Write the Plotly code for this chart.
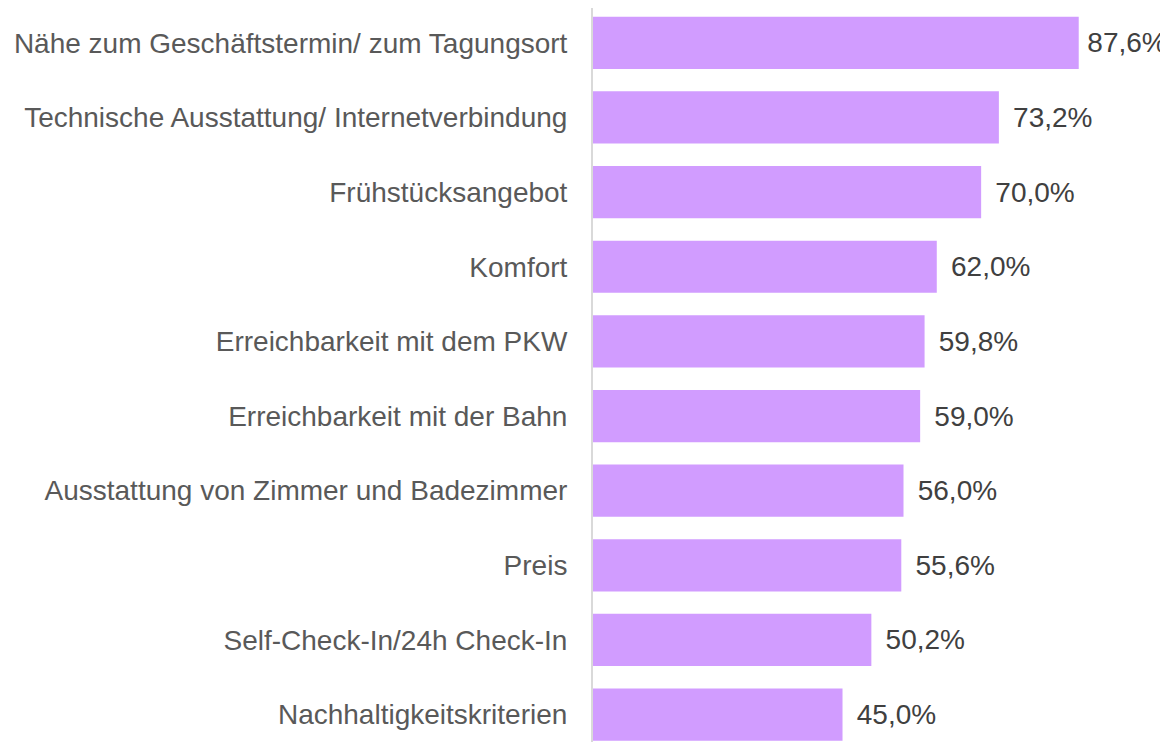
import plotly.graph_objects as go

categories = [
    "Nähe zum Geschäftstermin/ zum Tagungsort",
    "Technische Ausstattung/ Internetverbindung",
    "Frühstücksangebot",
    "Komfort",
    "Erreichbarkeit mit dem PKW",
    "Erreichbarkeit mit der Bahn",
    "Ausstattung von Zimmer und Badezimmer",
    "Preis",
    "Self-Check-In/24h Check-In",
    "Nachhaltigkeitskriterien",
]
values = [87.6, 73.2, 70.0, 62.0, 59.8, 59.0, 56.0, 55.6, 50.2, 45.0]
value_labels = [f"{v:.1f}%".replace(".", ",") for v in values]

# wider gap normally, narrower gap for the longest bar so its label fits
texts = [("\u2009" if v > 80 else "\u2009\u2009") + t for v, t in zip(values, value_labels)]

fig = go.Figure(
    go.Bar(
        x=values,
        y=categories,
        orientation="h",
        marker=dict(color="#D19CFF", line=dict(width=0)),
        width=0.7,
        text=texts,
        textposition="outside",
        textfont=dict(family="Liberation Sans, Arial, sans-serif", size=28, color="#404040"),
        cliponaxis=False,
        hoverinfo="skip",
    )
)

fig.update_layout(
    width=1160,
    height=734,
    margin=dict(l=585, r=0, t=0, b=0),
    plot_bgcolor="white",
    paper_bgcolor="white",
    showlegend=False,
    font=dict(family="Liberation Sans, Arial, sans-serif", size=28, color="#595959"),
    xaxis=dict(
        range=[0, 103.7],
        showgrid=False,
        zeroline=False,
        showticklabels=False,
        showline=False,
        fixedrange=True,
    ),
    yaxis=dict(
        categoryorder="array",
        categoryarray=categories,
        range=[9.368, -0.467],
        showgrid=False,
        zeroline=False,
        showline=True,
        linecolor="#D9D9D9",
        linewidth=2,
        ticks="",
        ticklabelstandoff=18,
        tickfont=dict(size=28, color="#595959"),
        fixedrange=True,
    ),
    uniformtext=dict(mode=False),
)

fig.write_html("out.html")
